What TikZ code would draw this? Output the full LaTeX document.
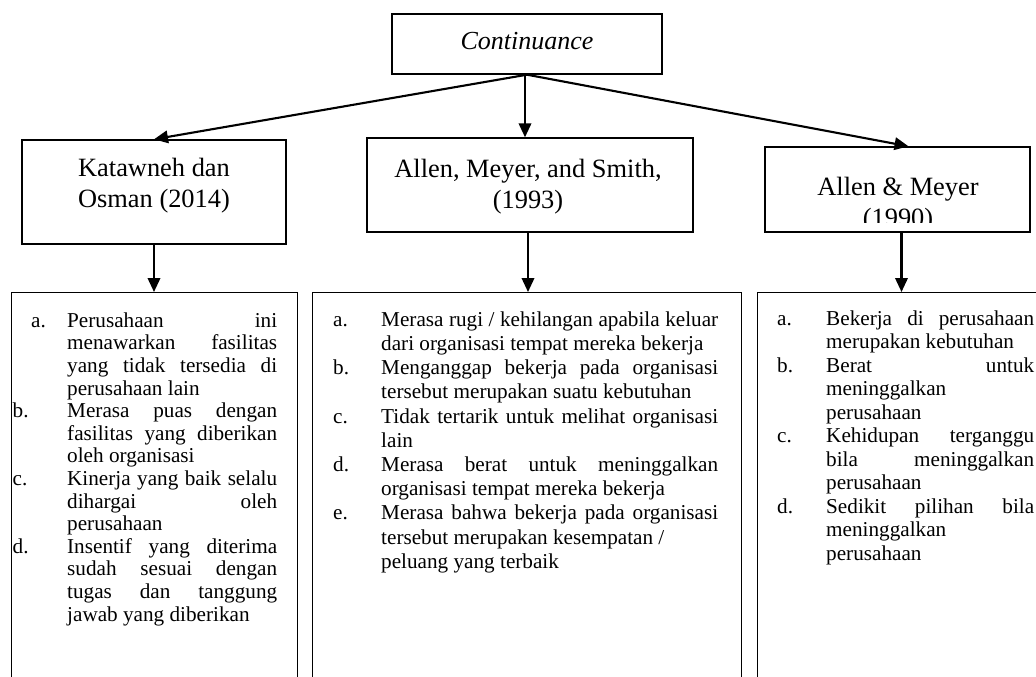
\documentclass[tikz,border=0pt]{standalone}
\usepackage{fontspec}
\setmainfont{Liberation Serif}
\usetikzlibrary{arrows.meta}

% list lines: label column + text column, justified (\jl) or ragged (\rl)
\newlength\lblw
\newlength\colw
\newcommand\jl[2]{\hbox{\hbox to\lblw{#1\hss}\hbox to\colw{\strut#2}}}
\newcommand\rl[2]{\hbox{\hbox to\lblw{#1\hss}\hbox to\colw{\strut#2\hfil}}}

\tikzset{
  box/.style={draw=black, line width=1.4pt, fill=none, inner sep=0pt},
  arr/.style={line width=2.1pt, -{Triangle[length=14pt,width=12.5pt]}},
  headtext/.style={inner sep=0pt, align=center, font=\fontsize{26.4}{30.8}\selectfont},
  listtext/.style={inner sep=0pt, anchor=north west},
}

\begin{document}
\begin{tikzpicture}[x=1pt, y=-1pt]
  \useasboundingbox (0,0) rectangle (1036,677);
  \fill[white] (0,0) rectangle (1036,677);
  \clip (0,0) rectangle (1036,677);

  % top box
  \node[box, minimum width=270pt, minimum height=60pt] (cont) at (527,44) {};
  \node[inner sep=0pt, anchor=base, font=\fontsize{26}{30}\selectfont\itshape] (contT) at (527,50) {Continuance};

  % second row: sources
  \node[box, minimum width=264pt, minimum height=104pt] (kat) at (154,192) {};
  \node[headtext, anchor=north] (katT) at (154,154.44) {\strut Katawneh dan\\\strut Osman (2014)};

  \node[box, minimum width=326pt, minimum height=94pt] (ams) at (530,185) {};
  \node[headtext, anchor=north] (amsT) at (528,155.44) {\strut Allen, Meyer, and Smith,\\\strut (1993)};

  \node[box, minimum width=265pt, minimum height=85pt] (am) at (897.5,189.5) {};
  \begin{scope}
    \clip (765,147) rectangle (1030,222);
    \node[headtext, anchor=north] (amT) at (898,173.44) {\strut Allen \& Meyer\\\strut (1990)};
  \end{scope}

  % third row: indicator lists (boxes run past the lower edge)
  \node[box, minimum width=286pt, minimum height=440pt, anchor=north west] (boxL) at (11,292) {};
  \node[box, minimum width=429pt, minimum height=440pt, anchor=north west] (boxM) at (312,292) {};
  \node[box, minimum width=300pt, minimum height=440pt, anchor=north west] (boxR) at (757,292) {};

  \node[listtext, font=\fontsize{21.2}{22.6}\selectfont] (listL) at (12.5,311.18) {%
    \setlength\lblw{54.5pt}\setlength\colw{210pt}%
    \vbox{%
      \jl{\hspace*{18.5pt}a.}{Perusahaan ini}
      \jl{}{menawarkan fasilitas}
      \jl{}{yang tidak tersedia di}
      \rl{}{perusahaan lain}
      \jl{b.}{Merasa puas dengan}
      \jl{}{fasilitas yang diberikan}
      \rl{}{oleh organisasi}
      \jl{c.}{Kinerja yang baik selalu}
      \jl{}{dihargai oleh}
      \rl{}{perusahaan}
      \jl{d.}{Insentif yang diterima}
      \jl{}{sudah sesuai dengan}
      \jl{}{tugas dan tanggung}
      \rl{}{jawab yang diberikan}
    }};

  \node[listtext, font=\fontsize{21.2}{24.2}\selectfont] (listM) at (333,309.06) {%
    \setlength\lblw{48pt}\setlength\colw{337pt}%
    \vbox{%
      \jl{a.}{Merasa rugi / kehilangan apabila keluar}
      \rl{}{dari organisasi tempat mereka bekerja}
      \jl{b.}{Menganggap bekerja pada organisasi}
      \rl{}{tersebut merupakan suatu kebutuhan}
      \jl{c.}{Tidak tertarik untuk melihat organisasi}
      \rl{}{lain}
      \jl{d.}{Merasa berat untuk meninggalkan}
      \rl{}{organisasi tempat mereka bekerja}
      \jl{e.}{Merasa bahwa bekerja pada organisasi}
      \rl{}{tersebut merupakan kesempatan /}
      \rl{}{peluang yang terbaik}
    }};

  \node[listtext, font=\fontsize{21.2}{23.5}\selectfont] (listR) at (777,308.55) {%
    \setlength\lblw{49pt}\setlength\colw{208pt}%
    \vbox{%
      \jl{a.}{Bekerja di perusahaan}
      \rl{}{merupakan kebutuhan}
      \jl{b.}{Berat untuk}
      \rl{}{meninggalkan}
      \rl{}{perusahaan}
      \jl{c.}{Kehidupan terganggu}
      \jl{}{bila meninggalkan}
      \rl{}{perusahaan}
      \jl{d.}{Sedikit pilihan bila}
      \rl{}{meninggalkan}
      \rl{}{perusahaan}
    }};

  % connectors
  \draw[arr] (cont.south) -- (kat.north);
  \draw[arr] ([xshift=-2pt]cont.south) -- ([xshift=-2pt]cont.south |- ams.north);
  \draw[arr] (cont.south) -- ([xshift=11pt]am.north);
  \draw[arr] (kat.south) -- (kat.south |- boxL.north);
  \draw[arr] ([xshift=-2pt]ams.south) -- ([xshift=-2pt]ams.south |- boxM.north);
  \draw[arr] ([xshift=4pt]am.south) -- ([xshift=4pt]am.south |- boxR.north);
\end{tikzpicture}
\end{document}
